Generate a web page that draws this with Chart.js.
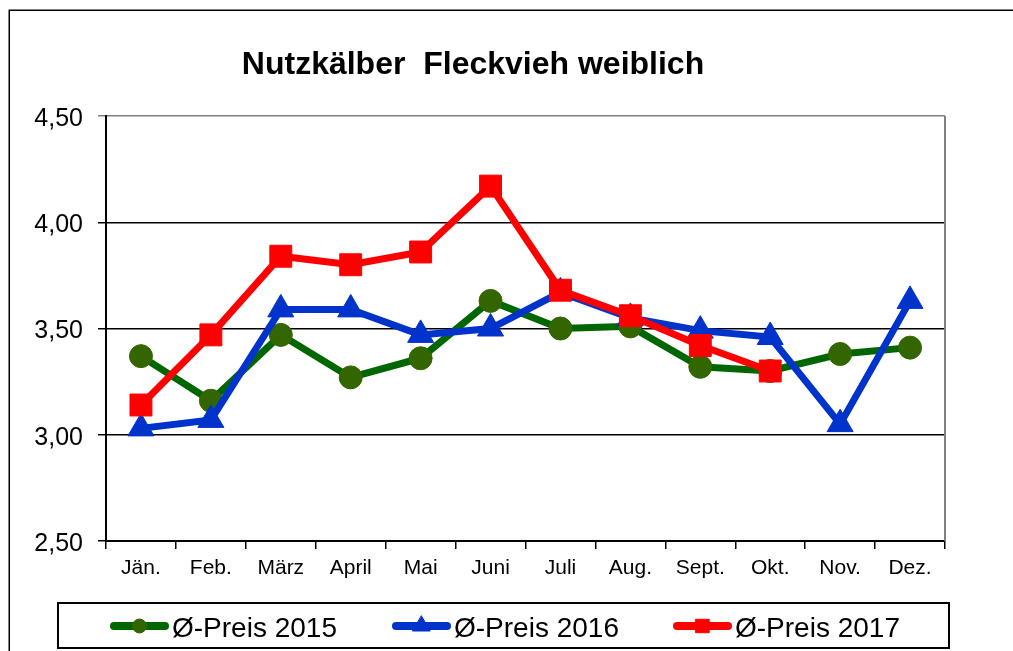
<!DOCTYPE html>
<html>
<head>
<meta charset="utf-8">
<script src="https://cdn.jsdelivr.net/npm/chart.js@4/dist/chart.umd.min.js"></script>
<style>
html,body{margin:0;padding:0;background:#fff;}
#wrap{width:1013px;height:651px;position:relative;}
</style>
</head>
<body>
<div id="wrap"><canvas id="c" width="1013" height="651"></canvas></div>
<script>
const titleText = 'Nutzkälber  Fleckvieh weiblich';
const months = ['Jän.','Feb.','März','April','Mai','Juni','Juli','Aug.','Sept.','Okt.','Nov.','Dez.'];
const seriesNames = ['Ø-Preis 2015','Ø-Preis 2016','Ø-Preis 2017'];
const preis2015 = [3.37, 3.16, 3.47, 3.27, 3.36, 3.63, 3.50, 3.51, 3.32, 3.30, 3.38, 3.41];
const preis2016 = [3.03, 3.07, 3.59, 3.59, 3.47, 3.50, 3.67, 3.55, 3.49, 3.46, 3.05, 3.63];
const preis2017 = [3.14, 3.47, 3.84, 3.80, 3.86, 4.17, 3.68, 3.56, 3.42, 3.30, null, null];
const yMin = 2.5, yMax = 4.5, yStep = 0.5;

const FONT = '"Liberation Sans", Arial, sans-serif';
const styles = [
  {line:'#006600', fill:'#336600', shape:'circle', r:11.5, lr:7},
  {line:'#0033CC', fill:'#0033CC', shape:'triangle', r:15, lr:10},
  {line:'#FF0000', fill:'#FF0000', shape:'rect', r:15.5, lr:9.5}
];
const dataArr = [preis2015, preis2016, preis2017];

const frame = {
  id:'frame',
  beforeDraw(chart){
    const ctx = chart.ctx;
    ctx.save();
    ctx.fillStyle = '#fff';
    ctx.fillRect(0,0,chart.width,chart.height);
    ctx.restore();
  },
  afterDraw(chart){
    const ctx = chart.ctx, a = chart.chartArea;
    ctx.save();
    // outer border
    ctx.strokeStyle = '#000';
    ctx.lineWidth = 1.5;
    ctx.strokeRect(9.25, 10.25, 1100, 800);
    // right plot border
    ctx.strokeStyle = '#808080';
    ctx.lineWidth = 2;
    ctx.beginPath();
    ctx.moveTo(a.right, a.top);
    ctx.lineTo(a.right, a.bottom);
    ctx.stroke();
    // title
    ctx.fillStyle = '#000';
    ctx.font = 'bold 32px ' + FONT;
    ctx.textAlign = 'center';
    ctx.textBaseline = 'alphabetic';
    ctx.fillText(titleText, 473, 74);
    // legend box
    ctx.strokeStyle = '#000';
    ctx.lineWidth = 2;
    ctx.strokeRect(58, 603, 891, 45);
    // legend items
    const xs = [110, 392, 673];
    const ly = 626;
    ctx.font = '28px ' + FONT;
    ctx.textAlign = 'left';
    for (let i = 0; i < 3; i++) {
      const s = styles[i];
      ctx.strokeStyle = s.line;
      ctx.lineWidth = 8;
      ctx.lineCap = 'round';
      ctx.beginPath();
      ctx.moveTo(xs[i] + 4, ly);
      ctx.lineTo(xs[i] + 55, ly);
      ctx.stroke();
      ctx.fillStyle = s.fill;
      ctx.strokeStyle = s.fill;
      ctx.lineWidth = 1;
      Chart.helpers.drawPoint(ctx, {pointStyle: s.shape, radius: s.lr, borderWidth: 1}, xs[i] + 29.5, ly);
      ctx.fillStyle = '#000';
      ctx.fillText(seriesNames[i], xs[i] + 62, 637);
    }
    ctx.restore();
  }
};

const datasets = dataArr.map((d, i) => ({
  label: seriesNames[i],
  data: d,
  borderColor: styles[i].line,
  backgroundColor: styles[i].fill,
  borderWidth: 7,
  pointStyle: styles[i].shape,
  pointRadius: styles[i].r,
  pointHoverRadius: styles[i].r,
  pointBackgroundColor: styles[i].fill,
  pointBorderColor: styles[i].fill,
  pointBorderWidth: 1,
  tension: 0,
  spanGaps: false,
  order: 3 - i,
  clip: false
}));

new Chart(document.getElementById('c'), {
  type: 'line',
  data: { labels: months, datasets },
  plugins: [frame],
  options: {
    responsive: false,
    animation: false,
    devicePixelRatio: 1,
    layout: { padding: { top: 116, right: 68, left: 0, bottom: 0 } },
    plugins: { legend: { display: false }, title: { display: false }, tooltip: { enabled: false } },
    scales: {
      x: {
        offset: true,
        afterFit(scale){ scale.height = 110; },
        grid: { offset: true, drawOnChartArea: false, drawTicks: true, tickLength: 8, color: '#000', lineWidth: 1.5 },
        border: { color: '#000', width: 2 },
        ticks: { color: '#000', font: { family: FONT, size: 21 }, padding: 7, maxRotation: 0, autoSkip: false }
      },
      y: {
        min: yMin, max: yMax,
        afterFit(scale){ scale.width = 106; },
        grid: {
          color: (c) => (c.tick && c.tick.value === yMax) ? '#808080' : '#000',
          lineWidth: 1.5, tickLength: 8, drawTicks: true
        },
        border: { color: '#000', width: 2 },
        ticks: {
          stepSize: yStep, color: '#000', padding: 15, labelOffset: 3,
          font: { family: FONT, size: 25 },
          callback: (v) => Number(v).toFixed(2).replace('.', ',')
        }
      }
    }
  }
});
</script>
</body>
</html>
